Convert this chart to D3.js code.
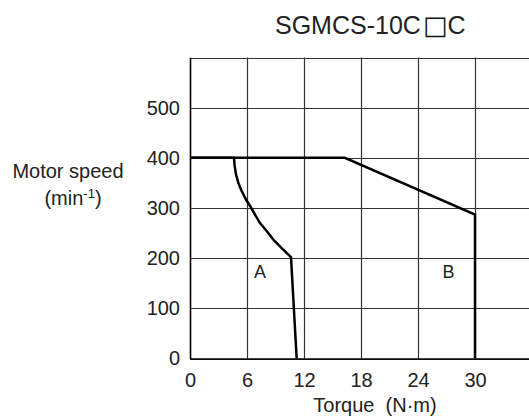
<!DOCTYPE html>
<html>
<head>
<meta charset="utf-8">
<script src="https://cdn.jsdelivr.net/npm/d3@7"></script>
<style>
html,body{margin:0;padding:0;background:#fff;}
svg{display:block;}
text{font-family:"Liberation Sans",Arial,"DejaVu Sans",sans-serif;fill:#222;}
</style>
</head>
<body>
<svg id="chart" width="529" height="417"></svg>
<script>
const titleParts = ["SGMCS-10C", "\u25A1", "C"];
const xTicks = [0, 6, 12, 18, 24, 30];
const yTicks = [0, 100, 200, 300, 400, 500];
const xDomain = [0, 36];
const yDomain = [0, 600];

// Curve A (torque N·m, speed min-1)
const curveATorque = [0, 4.63, 4.70, 4.84, 5.09, 5.44, 5.89, 6.32, 6.84, 7.37, 8.07, 8.77, 9.65, 10.63, 11.23];
const curveASpeed  = [400, 400, 384, 367, 350, 334, 317, 304, 287, 270, 254, 237, 220, 202, 0];
// Curve B
const curveBTorque = [0, 16.3, 30.0, 30.0];
const curveBSpeed  = [400, 400, 287, 0];

const labels = ["A", "B"];
const labelTorque = [7.37, 27.2];
const labelSpeed = [161, 161];

const svg = d3.select("#chart");
const x = d3.scaleLinear().domain(xDomain).range([190, 532]);
const y = d3.scaleLinear().domain(yDomain).range([358.5, 57.5]);

// grid
const g = svg.append("g");
const xGrid = d3.range(0, 37, 6);
const yGrid = d3.range(0, 601, 100);
g.selectAll("line.vx").data(xGrid).enter().append("line")
  .attr("x1", d => Math.round(x(d)) + 0.5).attr("x2", d => Math.round(x(d)) + 0.5)
  .attr("y1", y(0)).attr("y2", y(600))
  .attr("stroke", "#333").attr("stroke-width", 1.2);
g.selectAll("line.hy").data(yGrid).enter().append("line")
  .attr("x1", x(0)).attr("x2", x(36))
  .attr("y1", d => Math.round(y(d)) + 0.5).attr("y2", d => Math.round(y(d)) + 0.5)
  .attr("stroke", "#333").attr("stroke-width", 1.2);

// axes
const xAxis = d3.axisBottom(x).tickValues(xTicks).tickSize(0).tickPadding(14);
const yAxis = d3.axisLeft(y).tickValues(yTicks).tickSize(0).tickPadding(10);
const gx = svg.append("g").attr("transform", `translate(0,${y(0)})`).call(xAxis);
const gy = svg.append("g").attr("transform", `translate(${x(0)},0)`).call(yAxis);
[gx, gy].forEach(a => {
  a.select(".domain").attr("stroke", "#000").attr("stroke-width", 1.5);
  a.selectAll("text").attr("font-size", 20).attr("fill", "#222")
    .attr("font-family", '"Liberation Sans",Arial,sans-serif');
});

// curves
const line = d3.line().x(d => x(d[0])).y(d => y(d[1]));
const dataA = curveATorque.map((t, i) => [t, curveASpeed[i]]);
const dataB = curveBTorque.map((t, i) => [t, curveBSpeed[i]]);
svg.append("path").datum(dataB).attr("d", line)
  .attr("fill", "none").attr("stroke", "#000").attr("stroke-width", 2.5).attr("stroke-linejoin", "miter");
svg.append("path").datum(dataA).attr("d", line)
  .attr("fill", "none").attr("stroke", "#000").attr("stroke-width", 2.5).attr("stroke-linejoin", "round");

// curve labels
svg.selectAll("text.cl").data(labels).enter().append("text")
  .attr("x", (d, i) => x(labelTorque[i])).attr("y", (d, i) => y(labelSpeed[i]))
  .attr("text-anchor", "middle").attr("font-size", 18).text(d => d);

// title
const tt = svg.append("text").attr("x", 275).attr("y", 34).attr("text-anchor", "start")
  .attr("font-size", 25);
tt.append("tspan").text(titleParts[0]);
tt.append("tspan").attr("dx", 2).attr("font-family", '"DejaVu Sans",sans-serif')
  .attr("font-weight", "bold").attr("font-size", 26).attr("fill", "#111").text(titleParts[1]);
tt.append("tspan").attr("dx", 0).text(titleParts[2]);

// axis titles
svg.append("text").attr("x", 375).attr("y", 412).attr("text-anchor", "middle")
  .attr("font-size", 20).text("Torque\u00A0 (N\u00B7m)");
svg.append("text").attr("x", 68).attr("y", 178).attr("text-anchor", "middle")
  .attr("font-size", 20).text("Motor speed");
const t2 = svg.append("text").attr("x", 73).attr("y", 205).attr("text-anchor", "middle")
  .attr("font-size", 20);
t2.append("tspan").text("(min");
t2.append("tspan").attr("dy", -7).attr("font-size", 13).text("-1");
t2.append("tspan").attr("dy", 7).text(")");
</script>
</body>
</html>
